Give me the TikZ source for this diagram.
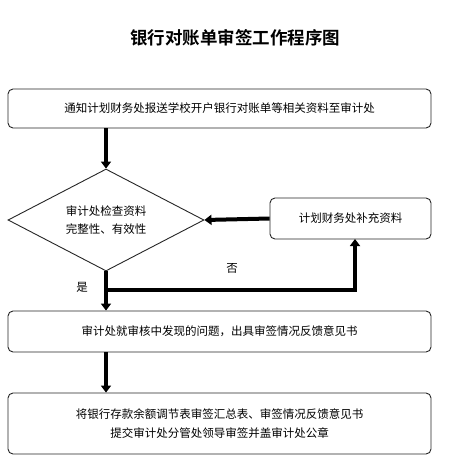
\documentclass[tikz,border=0pt]{standalone}
\usepackage{fontspec}
\setmainfont{Noto Sans CJK SC}
\newfontfamily\cjk{Noto Sans CJK SC}
\newfontfamily\cjkbold{Noto Sans CJK SC Bold}
\usetikzlibrary{shapes.geometric,arrows.meta}
\begin{document}
\begin{tikzpicture}[x=1pt,y=-1pt,
  box/.style={draw=black!85,line width=0.9pt,rounded corners=5pt,inner sep=0pt,align=center,font=\cjk\fontsize{11.5}{18.5}\selectfont},
  decision/.style={draw=black!85,line width=0.9pt,diamond,aspect=1.92,inner sep=0pt,align=center,font=\cjk\fontsize{11.5}{18.5}\selectfont},
  flow/.style={line width=4pt,-{Triangle[width=10pt,length=7pt]}},
  lbl/.style={font=\cjk\fontsize{11.5}{14}\selectfont}]
\fill[white] (0,0) rectangle (464,476);
\useasboundingbox (0,0) rectangle (464,476);
\node[font=\cjkbold\fontsize{17.5}{20}\selectfont] (title) at (235,38) {银行对账单审签工作程序图};
\node[box,minimum width=423pt,minimum height=39pt] (b1) at (219.5,108.5) {通知计划财务处报送学校开户银行对账单等相关资料至审计处};
\node[decision,minimum width=196pt,minimum height=102pt] (d) at (106,220) {审计处检查资料\\完整性、有效性};
\node[box,minimum width=161pt,minimum height=41pt] (b2) at (350.5,218.5) {计划财务处补充资料};
\node[box,minimum width=423pt,minimum height=41pt] (b3) at (219.5,331.5) {审计处就审核中发现的问题，出具审签情况反馈意见书};
\node[box,minimum width=423pt,minimum height=61pt] (b4) at (219.5,423.5) {将银行存款余额调节表审签汇总表、审签情况反馈意见书\\提交审计处分管处领导审签并盖审计处公章};
\coordinate (j) at (106,290);
\coordinate (up) at (355,239);
\draw[flow] (b1.south -| d.north) -- (d.north);
\draw[flow] (b2.west) -- (d.east);
\draw[flow] (d.south) -- (d.south |- b3.north);
\draw[flow] (j) -| (up);
\draw[flow] (d.south |- b3.south) -- (d.south |- b4.north);
\node[lbl] (yes) at (82,287) {是};
\node[lbl] (no) at (232,268) {否};
\end{tikzpicture}
\end{document}
